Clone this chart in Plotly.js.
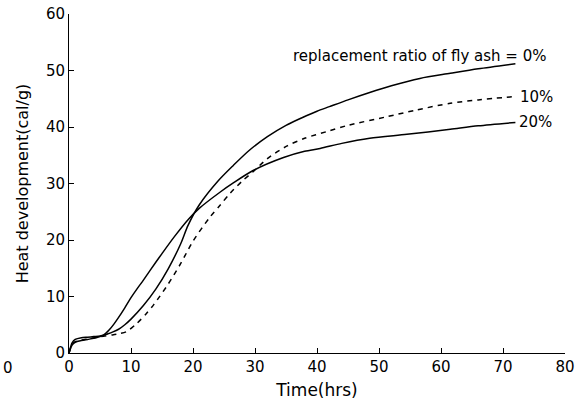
<!DOCTYPE html>
<html>
<head>
<meta charset="utf-8">
<script src="https://cdn.plot.ly/plotly-3.0.1.min.js"></script>
<style>html,body{margin:0;padding:0;background:#fff;}#chart{width:586px;height:400px;}</style>
</head>
<body>
<div id="chart"></div>
<script>
// Time (hrs)
const t0 = [0, 0.5, 1, 2, 3, 4, 5, 6, 7, 8, 9, 10, 12, 14, 16, 18, 19.2, 21, 24, 26.5, 29, 32, 35, 37.5, 40, 42, 45, 48.5, 52, 56.6, 61.5, 66, 72];
const heat0 = [0, 1.4, 1.9, 2.2, 2.4, 2.6, 2.9, 3.3, 3.7, 4.2, 5.0, 6.0, 8.4, 11.3, 14.9, 19.3, 22.6, 26.2, 30.4, 33.2, 35.8, 38.3, 40.3, 41.6, 42.8, 43.6, 44.8, 46.1, 47.3, 48.6, 49.5, 50.3, 51.2];

const t10 = [0, 0.5, 1, 2, 3, 5, 7, 8, 9.3, 11, 12.5, 13.7, 16, 18, 20, 22.7, 24.4, 26, 28, 29.7, 32, 35.1, 38, 41.6, 45, 51.2, 56, 61.5, 66, 72];
const heat10 = [0, 1.5, 2.0, 2.3, 2.5, 2.9, 3.2, 3.4, 3.8, 5.3, 7.0, 8.6, 12.2, 15.8, 19.8, 24.0, 26.2, 28.3, 30.5, 32.1, 34.4, 36.6, 38.0, 39.2, 40.3, 41.8, 43.0, 44.2, 44.8, 45.4];

const t20 = [0, 0.5, 1, 2, 3, 4, 5, 5.6, 6.5, 7.3, 8, 9, 10, 11, 12, 13, 15, 17, 19.2, 21, 24.4, 26.5, 29.7, 34.6, 38, 40.5, 44, 48.5, 54.5, 61.5, 66, 72];
const heat20 = [0, 1.8, 2.4, 2.7, 2.8, 2.9, 3.0, 3.2, 4.1, 5.2, 6.3, 8.0, 9.8, 11.4, 12.9, 14.5, 17.6, 20.6, 23.6, 25.6, 28.5, 30.1, 32.3, 34.6, 35.7, 36.2, 37.1, 38.0, 38.7, 39.6, 40.2, 40.8];

const xTicks = [0, 10, 20, 30, 40, 50, 60, 70, 80];
const yTicks = [0, 10, 20, 30, 40, 50, 60];

const FONT = '"DejaVu Sans", Arial, sans-serif';
const lineStyle = {color: '#000', width: 1.5, shape: 'spline', smoothing: 0.8};

const traces = [
  {x: t0, y: heat0, mode: 'lines', line: lineStyle, name: '0%'},
  {x: t10, y: heat10, mode: 'lines', line: Object.assign({}, lineStyle, {dash: '5px,5px'}), name: '10%'},
  {x: t20, y: heat20, mode: 'lines', line: lineStyle, name: '20%'}
];

const layout = {
  width: 586, height: 400,
  margin: {l: 69, r: 21, t: 14, b: 47},
  paper_bgcolor: '#fff', plot_bgcolor: '#fff',
  showlegend: false,
  font: {family: FONT, color: '#000', size: 15},
  xaxis: {
    range: [0, 80], tickvals: xTicks, ticktext: xTicks.map(String),
    showgrid: false, zeroline: false, showline: true, linecolor: '#000', linewidth: 1,
    ticks: 'inside', ticklen: 5, tickwidth: 1, tickcolor: '#000',
    tickfont: {family: FONT, size: 15, color: '#000'},
    title: {text: 'Time(hrs)', font: {family: FONT, size: 17, color: '#000'}, standoff: 9}
  },
  yaxis: {
    range: [0, 60], tickvals: yTicks, ticktext: yTicks.map(String),
    showgrid: false, zeroline: false, showline: true, linecolor: '#000', linewidth: 1,
    ticks: 'inside', ticklen: 5, tickwidth: 1, tickcolor: '#000',
    tickfont: {family: FONT, size: 15, color: '#000'},
    title: {text: 'Heat development(cal/g)', font: {family: FONT, size: 16, color: '#000'}, standoff: 13}
  },
  annotations: [
    {x: 35.8, y: 52.6, xref: 'x', yref: 'y', text: 'replacement ratio of fly ash = 0%', showarrow: false, xanchor: 'left', yanchor: 'middle', font: {family: FONT, size: 15, color: '#000'}},
    {x: 72.4, y: 45.3, xref: 'x', yref: 'y', text: '10%', showarrow: false, xanchor: 'left', yanchor: 'middle', font: {family: FONT, size: 15, color: '#000'}},
    {x: 72.3, y: 40.9, xref: 'x', yref: 'y', text: '20%', showarrow: false, xanchor: 'left', yanchor: 'middle', font: {family: FONT, size: 15, color: '#000'}},
    {x: -0.137, y: -0.045, xref: 'paper', yref: 'paper', text: '0', showarrow: false, xanchor: 'left', yanchor: 'middle', font: {family: FONT, size: 15, color: '#000'}}
  ]
};

Plotly.newPlot('chart', traces, layout, {staticPlot: true, displayModeBar: false});
</script>
</body>
</html>
